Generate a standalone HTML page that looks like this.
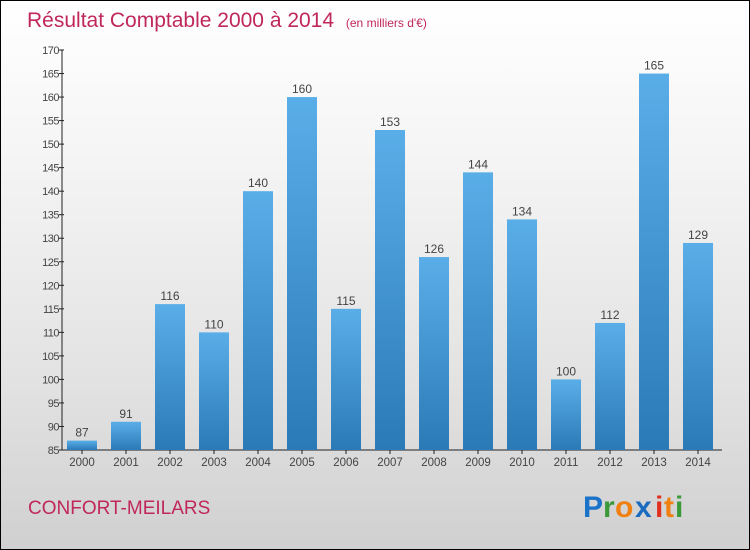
<!DOCTYPE html>
<html><head><meta charset="utf-8">
<style>
body{margin:0;padding:0}
#wrap{width:748px;height:548px;border:1px solid #000;background:linear-gradient(#ffffff,#f4f4f4 30%,#e2e2e2 70%,#d0d0d0);position:relative;overflow:hidden;font-family:"Liberation Sans",sans-serif}
</style></head><body>
<div id="wrap">
<svg id="chart" width="748" height="548" xmlns="http://www.w3.org/2000/svg">
<defs>
<linearGradient id="bg" x1="0" y1="0" x2="0" y2="1"><stop offset="0" stop-color="#5aaee8"/><stop offset="1" stop-color="#2a7ab8"/></linearGradient>
</defs>
<text x="26" y="26" font-size="21" fill="#c0285a">Résultat Comptable 2000 à 2014 <tspan font-size="12" dx="6">(en milliers d'€)</tspan></text>
<text x="27" y="513" font-size="19" fill="#c0285a">CONFORT-MEILARS</text>
<g font-size="30" font-weight="bold">
<text x="582" y="516" fill="#1a73c8">P</text><text x="602" y="516" fill="#3a9a3a">r</text><text x="614" y="516" fill="#f08010">o</text><text x="634" y="516" fill="#1a6bc0">x</text><text x="654" y="516" fill="#e03020">i</text><text x="663" y="516" fill="#f08010">t</text><text x="674" y="516" fill="#3a9a3a">i</text>
</g>
<g id="plot"></g>
</svg>
</div>
<script>
const years=["2000","2001","2002","2003","2004","2005","2006","2007","2008","2009","2010","2011","2012","2013","2014"];
const values=[87,91,116,110,140,160,115,153,126,144,134,100,112,165,129];
const yTicks=[85,90,95,100,105,110,115,120,125,130,135,140,145,150,155,160,165,170];
const NS="http://www.w3.org/2000/svg";
const g=document.getElementById('plot');
const y0=449,y1=49,vmin=85,vmax=170,axX=61,axEnd=721;
const y=v=>y0-(v-vmin)/(vmax-vmin)*(y0-y1);
const x=i=>81+i*44;
function mk(t,a){const e=document.createElementNS(NS,t);for(const k in a)e.setAttribute(k,a[k]);g.appendChild(e);return e;}
let e=mk('line',{x1:axX,y1:y1,x2:axX,y2:y0,stroke:'#222'});


e=mk('line',{x1:axX,y1:y0,x2:axEnd,y2:y0,stroke:'#222'});


yTicks.forEach(v=>{
 const t=mk('line',{x1:axX-3,y1:y(v),x2:axX+2,y2:y(v),stroke:'#222'});
 
 
 const l=mk('text',{x:axX-3,y:y(v)+4,'font-size':11,fill:'#444','text-anchor':'end','letter-spacing':'-0.5'});
 l.textContent=v;
 
 
});
years.forEach((yr,i)=>{
 const v=values[i];
 const b=mk('rect',{x:x(i)-15,y:y(v),width:30,height:y0-y(v),fill:'url(#bg)'});
 
 
 const vl=mk('text',{x:x(i),y:y(v)-4,'font-size':12,fill:'#444','text-anchor':'middle'});
 vl.textContent=v;
 
 
 const tk=mk('line',{x1:x(i),y1:y0,x2:x(i),y2:y0+4,stroke:'#222'});
 
 
 const xl=mk('text',{x:x(i),y:y0+16,'font-size':11.5,fill:'#444','text-anchor':'middle'});
 xl.textContent=yr;
 
 
});
</script>
</body></html>
